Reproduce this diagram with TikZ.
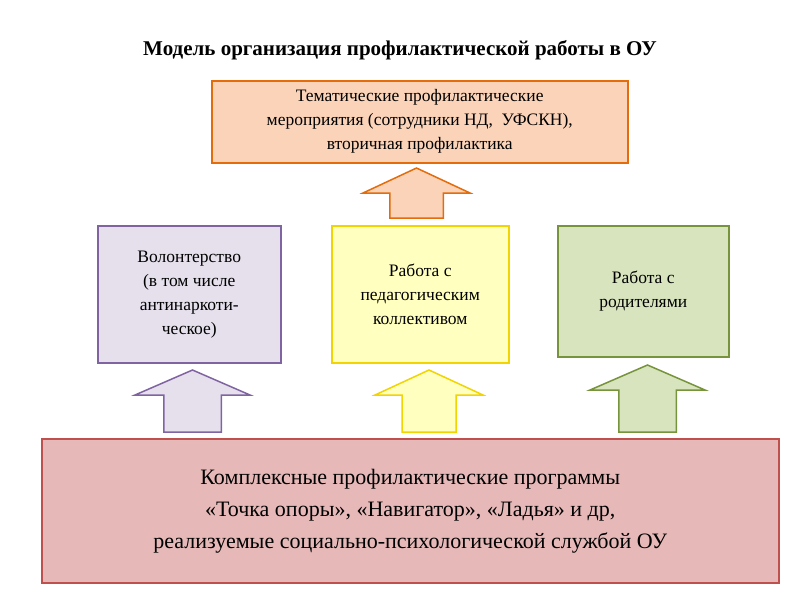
\documentclass[tikz,border=0pt]{standalone}
\usepackage{fontspec}
\setmainfont{Liberation Serif}
\definecolor{orF}{HTML}{FBD3B8}\definecolor{orD}{HTML}{E46C0A}
\definecolor{puF}{HTML}{E5E0EC}\definecolor{puD}{HTML}{8064A2}
\definecolor{yeF}{HTML}{FFFFC0}\definecolor{yeD}{HTML}{F2D400}
\definecolor{grF}{HTML}{D7E4BD}\definecolor{grD}{HTML}{77933C}
\definecolor{reF}{HTML}{E6B9B8}\definecolor{reD}{HTML}{C0504D}
\tikzset{box/.style={draw,line width=1.5pt,align=center,inner sep=0pt,anchor=north west,font=\fontsize{17.5}{24}\selectfont},
upar/.style={draw,line width=1.5pt,line join=miter}}
\newcommand{\myUpArrow}[6]{% x1 x2 ytop ybot fill draw
 \path[upar,fill=#5,draw=#6] (#1,#3+25) -- (#1*0.5+#2*0.5,#3) -- (#2,#3+25) -- (#2-0.25*#2+0.25*#1,#3+25) -- (#2-0.25*#2+0.25*#1,#4) -- (#1+0.25*#2-0.25*#1,#4) -- (#1+0.25*#2-0.25*#1,#3+25) -- cycle;}
\begin{document}
\begin{tikzpicture}[x=1pt,y=-1pt]
\useasboundingbox (0,0) rectangle (800,600);
\node (title) at (400,50) {\fontsize{21}{24}\selectfont\bfseries Модель организация профилактической работы в ОУ};
\node[box,fill=orF,draw=orD,minimum width=416pt,minimum height=82pt] (top) at (211,80) {Тематические профилактические\\мероприятия (сотрудники НД,\ \ УФСКН),\\вторичная профилактика};
\node[box,fill=puF,draw=puD,minimum width=183pt,minimum height=137pt] (vol) at (97,225) {Волонтерство\\(в том числе\\антинаркоти-\\ческое)};
\node[box,fill=yeF,draw=yeD,minimum width=177pt,minimum height=137pt] (ped) at (331,225) {Работа с\\педагогическим\\коллективом};
\node[box,fill=grF,draw=grD,minimum width=171pt,minimum height=131pt] (par) at (557,225) {Работа с\\родителями};
\node[box,fill=reF,draw=reD,minimum width=737pt,minimum height=144pt,font=\fontsize{22}{32}\selectfont] (bot) at (41,438) {Комплексные профилактические программы\\«Точка опоры», «Навигатор», «Ладья» и др,\\реализуемые социально-психологической службой ОУ};
\myUpArrow{363}{470}{168}{218}{orF}{orD}
\myUpArrow{135}{250}{370}{432}{puF}{puD}
\myUpArrow{375}{483}{370}{432}{yeF}{yeD}
\myUpArrow{590}{705}{365}{432}{grF}{grD}
\end{tikzpicture}
\end{document}
